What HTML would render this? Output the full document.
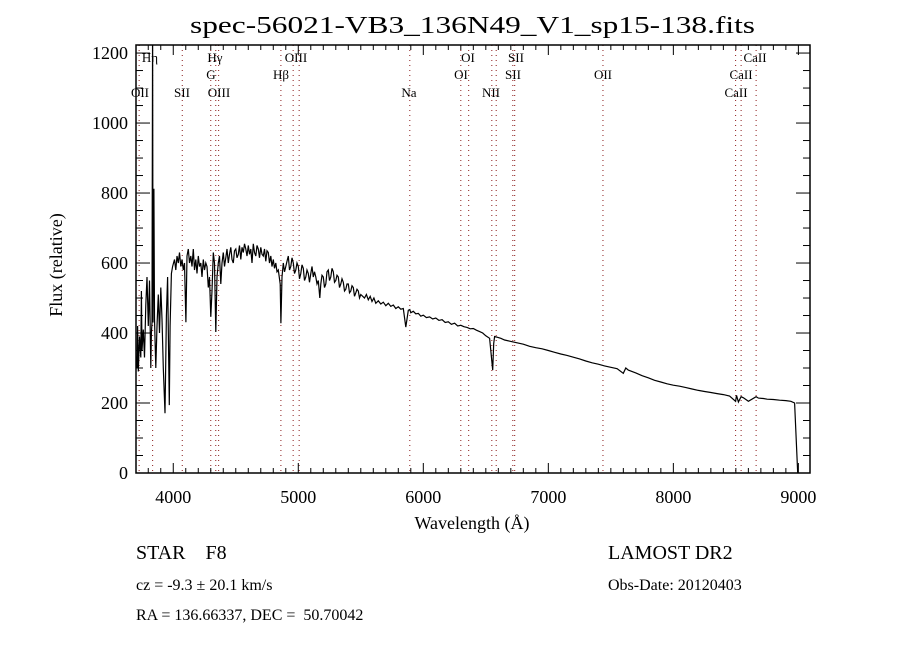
<!DOCTYPE html>
<html><head><meta charset="utf-8"><style>
body{margin:0;background:#fff}
svg text{font-family:"Liberation Serif",serif;fill:#000}
</style></head><body>
<svg id="chart" width="900" height="650" xmlns="http://www.w3.org/2000/svg">
<rect width="900" height="650" fill="#fff"/>
<text x="190" y="33" font-size="24" textLength="565" lengthAdjust="spacingAndGlyphs">spec-56021-VB3_136N49_V1_sp15-138.fits</text>
<defs><clipPath id="plotclip"><rect x="136" y="45" width="674" height="428"/></clipPath></defs>
<g id="lines"></g>
<g id="labels"></g>
<g clip-path="url(#plotclip)"><path id="spec" fill="none" stroke="#000" stroke-width="1.2"/></g>
<rect x="136" y="45" width="674" height="428" fill="none" stroke="#000" stroke-width="1.5"/>
<g id="axes"></g>
<text x="472" y="529" font-size="18" text-anchor="middle">Wavelength (Å)</text>
<text transform="translate(62,265) rotate(-90)" font-size="18" text-anchor="middle">Flux (relative)</text>
<text x="136" y="559" font-size="20" xml:space="preserve">STAR    F8</text>
<text x="608" y="559" font-size="20">LAMOST DR2</text>
<text x="136" y="590" font-size="16">cz = -9.3 ± 20.1 km/s</text>
<text x="608" y="590" font-size="16">Obs-Date: 20120403</text>
<text x="136" y="620" font-size="16" xml:space="preserve">RA = 136.66337, DEC =  50.70042</text>
</svg>
<script>
const wavelengths=[3700,3710,3715,3720,3730,3740,3745,3750,3760,3770,3780,3790,3800,3810,3820,3825,3830,3835,3838,3845,3850,3860,3870,3880,3890,3900,3910,3920,3934,3945,3955,3968,3975,3985,3995,4010,4020,4030,4040,4050,4060,4070,4080,4090,4101,4110,4120,4130,4140,4150,4160,4170,4180,4190,4200,4210,4220,4230,4240,4250,4260,4270,4280,4290,4300,4310,4320,4330,4340,4350,4360,4370,4380,4390,4400,4410,4420,4430,4440,4450,4460,4470,4480,4490,4500,4510,4520,4530,4540,4550,4560,4570,4580,4590,4600,4610,4620,4630,4640,4650,4660,4670,4680,4690,4700,4710,4720,4730,4740,4750,4760,4770,4780,4790,4800,4810,4820,4830,4840,4855,4861,4870,4880,4890,4900,4910,4920,4930,4940,4950,4960,4970,4980,4990,5000,5010,5020,5030,5040,5050,5060,5070,5080,5090,5100,5110,5120,5130,5140,5150,5160,5172,5180,5190,5200,5210,5220,5230,5240,5250,5260,5270,5280,5290,5300,5310,5320,5330,5340,5350,5360,5370,5380,5390,5400,5410,5420,5430,5440,5450,5460,5470,5480,5490,5500,5515,5530,5545,5560,5575,5590,5605,5620,5640,5660,5680,5700,5720,5740,5760,5780,5800,5820,5840,5860,5880,5892,5900,5920,5940,5960,5980,6000,6025,6050,6075,6100,6125,6150,6175,6200,6225,6250,6275,6300,6325,6350,6375,6400,6425,6450,6475,6500,6530,6555,6563,6570,6590,6620,6650,6700,6750,6800,6850,6900,6950,7000,7050,7100,7150,7200,7250,7300,7350,7400,7450,7500,7550,7600,7620,7640,7700,7750,7800,7850,7900,7950,8000,8050,8100,8150,8200,8250,8300,8350,8400,8450,8498,8505,8520,8542,8560,8600,8662,8680,8720,8750,8800,8850,8900,8940,8970,8995,9000];
const fluxes=[340,300,420,290,390,330,520,350,410,330,480,560,420,550,300,400,430,1300,430,812,440,300,420,510,400,530,440,300,171,450,560,194,420,570,590,610,580,620,600,630,590,610,580,600,431,620,640,600,620,590,640,580,610,570,620,590,600,560,610,580,600,590,530,560,446,520,630,600,403,560,600,620,540,600,630,590,615,640,600,625,645,610,600,635,640,615,625,650,610,645,630,655,640,620,650,625,640,600,655,630,620,650,640,615,645,625,620,640,605,635,630,600,620,590,610,585,600,575,580,540,428,560,600,575,590,605,620,580,590,615,600,570,580,600,590,555,570,595,585,550,560,580,570,545,570,590,560,575,560,540,550,500,540,565,560,530,540,575,580,550,560,585,575,545,550,565,560,530,540,555,545,520,525,540,540,515,520,535,530,505,515,525,520,500,510,505,500,510,495,505,490,500,485,492,483,488,478,485,476,480,470,475,468,470,417,465,467,458,462,455,456,448,451,444,446,440,443,436,438,430,432,425,428,420,422,418,416,412,413,408,404,400,392,385,294,370,390,388,385,380,376,372,368,362,358,355,350,345,340,336,331,326,320,315,311,306,302,298,285,300,294,286,278,272,265,260,255,251,248,244,240,236,233,230,227,224,220,205,222,203,218,215,205,218,214,213,211,210,208,207,205,200,0];
const lineWaves=[3727,3835,4072,4300,4340,4363,4861,4959,5007,5892,6300,6363,6548,6583,6716,6731,7437,8498,8542,8662];
const lineLabels=[["OII",140,97],["Hη",150,62],["SII",182,97],["Hγ",215,62],["G",211,79],["OIII",219,97],["Hβ",281,79],["OIII",296,62],["Na",409,97],["OI",468,62],["OI",461,79],["NII",491,97],["SII",516,62],["SII",513,79],["OII",603,79],["CaII",755,62],["CaII",741,79],["CaII",736,97]];
const xTicks=[4000,5000,6000,7000,8000,9000];
const yTicks=[0,200,400,600,800,1000,1200];
const X0=136,X1=810,Y0=473,Y1=45,WMIN=3702,WMAX=9093,FMIN=0,FMAX=1223;
const xs=w=>X0+(w-WMIN)/(WMAX-WMIN)*(X1-X0);
const ys=f=>Y0-(f-FMIN)/(FMAX-FMIN)*(Y0-Y1);
const NS="http://www.w3.org/2000/svg";
function mk(t,a,p){const e=document.createElementNS(NS,t);for(const k in a)e.setAttribute(k,a[k]);p.appendChild(e);return e;}
let d="";wavelengths.forEach((w,i)=>{d+=(i?"L":"M")+xs(w).toFixed(1)+" "+ys(fluxes[i]).toFixed(1);});
document.getElementById("spec").setAttribute("d",d);
const lg=document.getElementById("lines");
lineWaves.forEach(w=>{const l=mk("line",{x1:xs(w),x2:xs(w),y1:Y1,y2:Y0,stroke:"#8b1a1a","stroke-width":1,"stroke-dasharray":"1 4"},lg);

});
const lb=document.getElementById("labels");
lineLabels.forEach(a=>{const t=mk("text",{x:a[1],y:a[2],"font-size":13,"text-anchor":"middle"},lb);t.textContent=a[0];

});
const ax=document.getElementById("axes");
for(let w=3800;w<=9000;w+=100){const maj=w%1000===0,L=maj?10:5;
mk("line",{x1:xs(w),x2:xs(w),y1:Y0,y2:Y0-L,stroke:"#000"},ax);mk("line",{x1:xs(w),x2:xs(w),y1:Y1,y2:Y1+L,stroke:"#000"},ax);}
xTicks.forEach(w=>{const t=mk("text",{x:xs(w),y:Y0+30,"font-size":18,"text-anchor":"middle","font-family":"Liberation Sans, sans-serif"},ax);t.textContent=w;

});
for(let f=0;f<=1200;f+=50){const maj=f%200===0,L=maj?14:7;
mk("line",{x1:X0,x2:X0+L,y1:ys(f),y2:ys(f),stroke:"#000"},ax);mk("line",{x1:X1,x2:X1-L,y1:ys(f),y2:ys(f),stroke:"#000"},ax);}
yTicks.forEach(f=>{const t=mk("text",{x:X0-8,y:ys(f)+6,"font-size":18,"text-anchor":"end","font-family":"Liberation Sans, sans-serif"},ax);t.textContent=f;

});
</script>
</body></html>
